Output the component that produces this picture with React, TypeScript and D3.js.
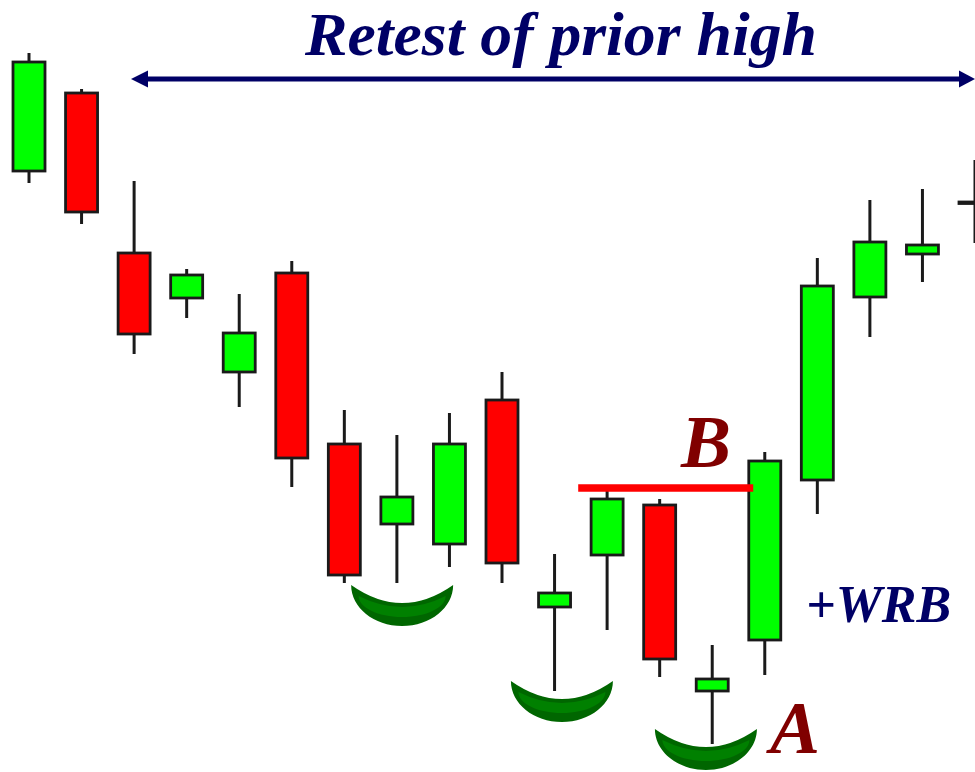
import React from "react";
import * as d3 from "d3";

// Candle data (arbitrary price points)
const opens = [601, 679, 519, 474, 400, 499, 328, 248, 228, 372, 165, 217, 267, 81, 132, 292, 475, 518, 570];
const highs = [719, 683, 591, 503, 478, 511, 362, 337, 359, 400, 218, 282, 273, 127, 320, 514, 572, 583, 612];
const lows = [589, 548, 418, 454, 365, 285, 189, 189, 205, 189, 81, 142, 95, 28, 97, 258, 435, 490, 529];
const closes = [710, 560, 438, 497, 439, 314, 197, 275, 328, 209, 179, 273, 113, 93, 311, 486, 530, 527, 570];

// Annotations
const titleText = "Retest of prior high";
const bLevel = 284;
const bRange = [10.45, 13.78];
const crescentCenters = [7.1, 10.14, 12.88];
const crescentLevels = [187, 91, 43];

const W = 975;
const H = 772;
const K = 0.5523;

function bowl(cx: number, ty: number, rx: number, topDepth: number, botDepth: number) {
  const l = cx - rx;
  const r = cx + rx;
  const b = ty + botDepth;
  return (
    `M${l},${ty} ` +
    `C${l},${ty + botDepth * K} ${cx - rx * K},${b} ${cx},${b} ` +
    `C${cx + rx * K},${b} ${r},${ty + botDepth * K} ${r},${ty} ` +
    `Q${cx},${ty + topDepth * 2} ${l},${ty} Z`
  );
}

export default function App() {
  const x = d3.scaleLinear().domain([0, 18]).range([29, 975]);
  const y = d3.scaleLinear().domain([0, 772]).range([772, 0]);
  const bodyW = 32;

  return (
    <svg
      width={W}
      height={H}
      viewBox={`0 0 ${W} ${H}`}
      style={{ position: "absolute", left: 0, top: 0, display: "block", background: "#ffffff" }}
    >
      <rect x={0} y={0} width={W} height={H} fill="#ffffff" />

      {/* crescents */}
      {crescentCenters.map((c, i) => {
        const cx = x(c);
        const ty = y(crescentLevels[i]);
        return (
          <g key={"cr" + i}>
            <path d={bowl(cx, ty, 51, 18, 41)} fill="#006600" />
            <path d={bowl(cx, ty + 11, 43.5, 11, 21)} fill="#008000" />
          </g>
        );
      })}

      {/* candles */}
      {opens.map((o, i) => {
        const c = closes[i];
        const cx = x(i);
        const up = c >= o;
        const top = y(Math.max(o, c));
        const bot = y(Math.min(o, c));
        return (
          <g key={"c" + i}>
            <line x1={cx} x2={cx} y1={y(highs[i])} y2={y(lows[i])} stroke="#1a1a1a" strokeWidth={3} />
            <rect
              x={cx - bodyW / 2}
              y={top}
              width={bodyW}
              height={Math.max(bot - top, 1.5)}
              fill={o === c ? "#1a1a1a" : up ? "#00ff00" : "#ff0000"}
              stroke="#1a1a1a"
              strokeWidth={2.8}
            />
          </g>
        );
      })}

      {/* B level line */}
      <line x1={x(bRange[0])} x2={x(bRange[1])} y1={y(bLevel)} y2={y(bLevel)} stroke="#ff0000" strokeWidth={7.5} />

      {/* arrow */}
      <line x1={146} x2={962} y1={79} y2={79} stroke="#000066" strokeWidth={5} />
      <path d="M131,79 L148,70.5 L148,87.5 Z" fill="#000066" />
      <path d="M975,79 L959,70.5 L959,87.5 Z" fill="#000066" />

      {/* texts */}
      <text
        x={561}
        y={55}
        textAnchor="middle"
        fontFamily="'Times New Roman', 'Liberation Serif', serif"
        fontWeight="bold"
        fontStyle="italic"
        fontSize={61}
        textLength={512}
        lengthAdjust="spacingAndGlyphs"
        fill="#000066"
      >
        {titleText}
      </text>
      <text
        x={681}
        y={467}
        fontFamily="'Times New Roman', 'Liberation Serif', serif"
        fontWeight="bold"
        fontStyle="italic"
        fontSize={75}
        fill="#800000"
      >
        B
      </text>
      <text
        x={770}
        y={753}
        fontFamily="'Times New Roman', 'Liberation Serif', serif"
        fontWeight="bold"
        fontStyle="italic"
        fontSize={75}
        fill="#800000"
      >
        A
      </text>
      <text
        x={806}
        y={622}
        fontFamily="'Times New Roman', 'Liberation Serif', serif"
        fontWeight="bold"
        fontStyle="italic"
        fontSize={52}
        fill="#000066"
      >
        +WRB
      </text>
    </svg>
  );
}
